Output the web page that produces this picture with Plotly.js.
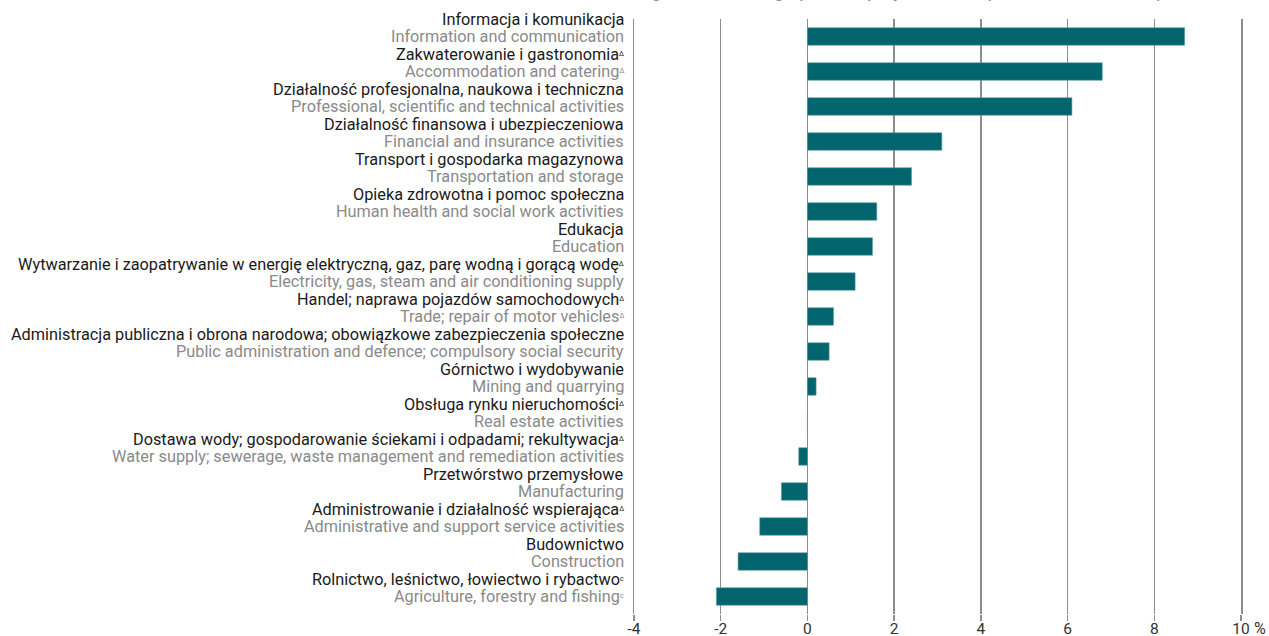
<!DOCTYPE html>
<html>
<head>
<meta charset="utf-8">
<script src="https://cdn.plot.ly/plotly-3.0.1.min.js"></script>
<style>html,body{margin:0;padding:0;background:#fff;}#chart{width:1269px;height:636px;}</style>
</head>
<body>
<div id="chart"></div>
<script>
const polishLabels = [
  "Informacja i komunikacja",
  "Zakwaterowanie i gastronomia",
  "Działalność profesjonalna, naukowa i techniczna",
  "Działalność finansowa i ubezpieczeniowa",
  "Transport i gospodarka magazynowa",
  "Opieka zdrowotna i pomoc społeczna",
  "Edukacja",
  "Wytwarzanie i zaopatrywanie w energię elektryczną, gaz, parę wodną i gorącą wodę",
  "Handel; naprawa pojazdów samochodowych",
  "Administracja publiczna i obrona narodowa; obowiązkowe zabezpieczenia społeczne",
  "Górnictwo i wydobywanie",
  "Obsługa rynku nieruchomości",
  "Dostawa wody; gospodarowanie ściekami i odpadami; rekultywacja",
  "Przetwórstwo przemysłowe",
  "Administrowanie i działalność wspierająca",
  "Budownictwo",
  "Rolnictwo, leśnictwo, łowiectwo i rybactwo"
];
const polishMarks = ["", "Δ", "", "", "", "", "", "Δ", "Δ", "", "", "Δ", "Δ", "", "Δ", "", "c"];
const englishLabels = [
  "Information and communication",
  "Accommodation and catering",
  "Professional, scientific and technical activities",
  "Financial and insurance activities",
  "Transportation and storage",
  "Human health and social work activities",
  "Education",
  "Electricity, gas, steam and air conditioning supply",
  "Trade; repair of motor vehicles",
  "Public administration and defence; compulsory social security",
  "Mining and quarrying",
  "Real estate activities",
  "Water supply; sewerage, waste management and remediation activities",
  "Manufacturing",
  "Administrative and support service activities",
  "Construction",
  "Agriculture, forestry and fishing"
];
const englishMarks = ["", "Δ", "", "", "", "", "", "", "Δ", "", "", "", "", "", "", "", "c"];
const values = [8.7, 6.8, 6.1, 3.1, 2.4, 1.6, 1.5, 1.1, 0.6, 0.5, 0.2, 0.0, -0.2, -0.6, -1.1, -1.6, -2.1];
const tickVals = [-4, -2, 0, 2, 4, 6, 8, 10];
const tickText = ["-4", "-2", "0", "2", "4", "6", "8", "10"];
const unitText = "%";
const titleText = "change in the average paid employment compared with the first quarter of 2022";

const cats = englishLabels.map((_, i) => i);
const FONT = "Roboto, 'Noto Sans', sans-serif";
const LSIZE = 16.3;

function withMark(txt, mark, color) {
  if (!mark) return txt;
  return txt + '<span style="font-size:10px;fill:' + color + '"><sup>' + mark + '</sup></span>';
}

const annotations = [];
cats.forEach(i => {
  annotations.push({
    xref: 'paper', x: 0, xanchor: 'right', xshift: -8,
    yref: 'y', y: i, yanchor: 'middle', yshift: 17,
    text: withMark(polishLabels[i], polishMarks[i], '#1a1a1a'), showarrow: false,
    font: {family: FONT, size: LSIZE, color: '#1a1a1a'}
  });
  annotations.push({
    xref: 'paper', x: 0, xanchor: 'right', xshift: -8,
    yref: 'y', y: i, yanchor: 'middle', yshift: 0,
    text: withMark(englishLabels[i], englishMarks[i], '#8a8a8a'), showarrow: false,
    font: {family: FONT, size: LSIZE, color: '#8a8a8a'}
  });
});
annotations.push({
  xref: 'x', x: tickVals[tickVals.length - 1], xanchor: 'left', xshift: 11,
  yref: 'paper', y: 0, yanchor: 'middle', yshift: -14,
  text: unitText, showarrow: false,
  font: {family: FONT, size: 16, color: '#333'}
});
annotations.push({
  xref: 'paper', x: 0.5, xanchor: 'center', xshift: 8,
  yref: 'paper', y: 1, yanchor: 'bottom', yshift: 15,
  text: titleText, showarrow: false,
  font: {family: FONT, size: 19, color: '#8a8a8a'}
});

const trace = {
  type: 'bar', orientation: 'h',
  x: values, y: cats,
  width: 0.5,
  marker: {color: '#02646c', line: {color: '#5f9ea3', width: 0.6}},
  hoverinfo: 'x'
};

const layout = {
  width: 1269, height: 636,
  margin: {l: 634, r: 28, t: 19, b: 22},
  paper_bgcolor: '#fff', plot_bgcolor: '#fff',
  showlegend: false,
  bargap: 0.5,
  xaxis: {
    range: [-4, 10],
    tickvals: tickVals, ticktext: tickText,
    showgrid: true, gridcolor: '#8c8c8c', gridwidth: 1.5,
    zeroline: false,
    ticks: 'outside', ticklen: 6, tickcolor: '#8c8c8c', tickwidth: 1.5,
    ticklabelstandoff: -6,
    tickfont: {family: FONT, size: 15.5, color: '#333'},
    showline: false, fixedrange: true
  },
  yaxis: {
    range: [16.5, -0.5],
    showticklabels: false, showgrid: false, zeroline: false,
    ticks: '', showline: true, mirror: true, linecolor: '#8c8c8c', linewidth: 1.5,
    fixedrange: true
  },
  annotations: annotations
};

Plotly.newPlot('chart', [trace], layout, {displayModeBar: false, staticPlot: true});
</script>
</body>
</html>
